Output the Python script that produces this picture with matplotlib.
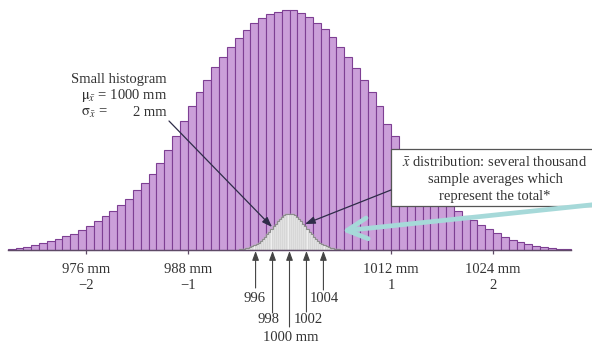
import numpy as np
import matplotlib
matplotlib.use("Agg")
import matplotlib.pyplot as plt
from matplotlib.transforms import Affine2D
from matplotlib.patches import Rectangle

# ---------------- data ----------------
center_mm = 1000
big_bin_width = 12 / 13          # mm per bar of the big histogram
big_heights = [0.6, 1.3, 2.6, 4.4, 6.3, 8.5, 11, 13.5, 16, 19.5, 24, 29,
               33.5, 39, 44.5, 51, 60, 67, 76, 87, 100, 114, 129, 144,
               158, 170, 183, 193, 203, 212, 220, 227, 232, 236, 238, 240,
               239.5, 237, 233, 227, 221, 213, 203, 193, 182, 170, 158, 144,
               126, 114, 100, 87, 76, 66, 57, 50, 44, 39, 34, 30,
               25, 20.5, 16.5, 13, 10, 7.7, 5.6, 3.8, 2.6, 1.6, 0.9, 0.4]
small_bin_width = 0.25           # mm per bar of the small histogram
small_heights = [0.48, 0.69, 0.97, 1.35, 1.8, 2.5, 3.3, 4.3, 5.5, 7.0, 8.7, 10.6,
                 12.8, 15.2, 17.8, 20.5, 23.2, 25.9, 28.4, 30.7, 32.7, 34.3, 35.4, 35.9,
                 35.9, 35.4, 34.3, 32.7, 30.7, 28.4, 25.9, 23.2, 20.5, 17.8, 15.2, 12.8,
                 10.6, 8.7, 7.0, 5.5, 4.3, 3.3, 2.5, 1.8, 1.35, 0.97, 0.69, 0.48]
tick_mm = [976, 988, 1012, 1024]
tick_sigma = ["\u22122", "\u22121", "1", "2"]
arrow_mm = [996, 998, 1000, 1002, 1004]
arrow_labels = ["996", "998", "1000 mm", "1002", "1004"]

# ---------------- style ----------------
plt.rcParams["font.family"] = ["Liberation Serif", "DejaVu Serif"]
plt.rcParams["mathtext.fontset"] = "stix"
TXT = "#333333"
FS = 10.5

W, H = 592, 344
X0, PXMM, Y0 = 289.5, 8.48, 249.5   # pixel position of 1000 mm, px per mm, baseline px

fig = plt.figure(figsize=(W / 100, H / 100), dpi=100)
fig.patch.set_facecolor("white")
ax = fig.add_axes([0, 0, 1, 1])
ax.set_axis_off()
ax.set_xlim(center_mm - X0 / PXMM, center_mm + (W - X0) / PXMM)
ax.set_ylim(-(H - Y0), Y0)

pix = Affine2D().scale(1 / W, -1 / H).translate(0, 1) + fig.transFigure

# big histogram
nb = len(big_heights)
big_left = center_mm - nb / 2 * big_bin_width + np.arange(nb) * big_bin_width
ax.bar(big_left, big_heights, width=big_bin_width, align="edge",
       color="#cb9fd9", edgecolor="#7e3f93", linewidth=0.8, zorder=1)

# small histogram
ns = len(small_heights)
small_edges = center_mm - ns / 2 * small_bin_width + np.arange(ns + 1) * small_bin_width
ax.bar(small_edges[:-1], small_heights, width=small_bin_width, align="edge",
       color="#efefef", edgecolor="#b9b9b9", linewidth=0.35, zorder=2)
ax.stairs(small_heights, small_edges, color="#8c8c8c", linewidth=0.8, zorder=3)

# baseline and ticks
ax.plot([big_left[0], big_left[-1] + big_bin_width], [0, 0],
        color="#5e4a66", linewidth=1.0, zorder=3)
ax.vlines(tick_mm, -4, 0, color="#5e4a66", linewidth=0.9, zorder=3)
for v, s in zip(tick_mm, tick_sigma):
    ax.text(v, -(273 - Y0), f"{v} mm", ha="center", va="baseline",
            fontsize=FS, color=TXT)
    ax.text(v, -(289 - Y0), s, ha="center", va="baseline",
            fontsize=FS, color=TXT)

# bottom arrows with labels
tails_px = [288, 313, 327, 312, 290]
label_dx = [-1.5, -4, 1.5, 2, 0.5]
label_base = [302, 323, 341, 323, 302]
for v, lab, t, dx, lb in zip(arrow_mm, arrow_labels, tails_px, label_dx, label_base):
    ax.annotate("", xy=(v, -1.5), xytext=(v, -(t - Y0)),
                arrowprops=dict(arrowstyle="-|>,head_length=0.55,head_width=0.2",
                                color="#444444", lw=0.8, shrinkA=0, shrinkB=0,
                                mutation_scale=10), zorder=5)
    ax.text(v + dx / PXMM, -(lb - Y0), lab, ha="center", va="baseline",
            fontsize=FS, color=TXT)

# "Small histogram" annotation
ax.text(167, 83, "Small histogram", transform=pix, ha="right", va="baseline",
        fontsize=FS, color=TXT)
ax.text(167, 99.5, r"$\mathrm{\mu}_{\bar{x}}$ = 1000 mm", transform=pix,
        ha="right", va="baseline", fontsize=FS, color=TXT)
ax.text(81, 116, r"$\mathrm{\sigma}_{\bar{x}}$ =", transform=pix,
        ha="left", va="baseline", fontsize=FS, color=TXT)
ax.text(167, 116, "2 mm", transform=pix, ha="right", va="baseline",
        fontsize=FS, color=TXT)
ax.annotate("", xy=(272, 227), xytext=(169, 121), xycoords=pix, textcoords=pix,
            arrowprops=dict(arrowstyle="-|>,head_length=0.6,head_width=0.22",
                            color="#2e2c48", lw=0.9, shrinkA=0, shrinkB=0,
                            mutation_scale=10), zorder=6)

# x-bar distribution box
box = Rectangle((391, 149), 230, 57, transform=pix, facecolor="white",
                edgecolor="#555555", linewidth=0.9, zorder=6, clip_on=False)
ax.add_patch(box)
box_lines = [r"$\bar{x}$ distribution: several thousand",
             "sample averages which",
             "represent the total*"]
for line, yb in zip(box_lines, [166.5, 183, 200]):
    ax.text(495, yb, line, transform=pix, ha="center", va="baseline",
            fontsize=FS, color=TXT, zorder=7)
ax.annotate("", xy=(305, 224), xytext=(391, 190), xycoords=pix, textcoords=pix,
            arrowprops=dict(arrowstyle="-|>,head_length=0.6,head_width=0.22",
                            color="#2e2c48", lw=0.9, shrinkA=0, shrinkB=0,
                            mutation_scale=10), zorder=6)

# light cyan pointer arrow
ax.annotate("", xy=(342, 231), xytext=(600, 204), xycoords=pix, textcoords=pix,
            arrowprops=dict(arrowstyle="->,head_length=1.45,head_width=0.75",
                            color="#a6d9d9", lw=3.4, shrinkA=0, shrinkB=0,
                            mutation_scale=10, capstyle="round",
                            joinstyle="round"), zorder=8)

fig.savefig("out.png", dpi=100, facecolor="white")
